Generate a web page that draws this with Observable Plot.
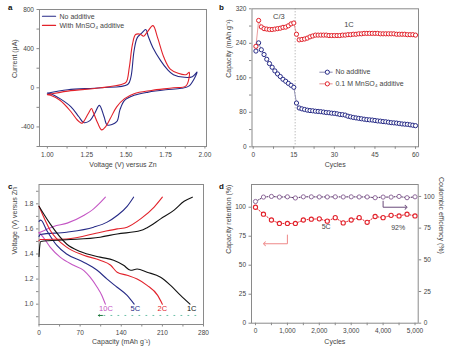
<!DOCTYPE html>
<html><head><meta charset="utf-8">
<script src="https://cdn.jsdelivr.net/npm/d3@7"></script>
<script src="https://cdn.jsdelivr.net/npm/@observablehq/plot@0.6"></script>
<style>
body{margin:0;background:#fff;}
#wrap{position:relative;width:450px;height:352px;overflow:hidden;font-family:"Liberation Sans",Arial,sans-serif;}
.panel{position:absolute;}
.lab{position:absolute;font-weight:bold;font-size:8px;color:#111;}
</style></head><body><div id="wrap"></div>
<script>
// ---------- Panel a: CV ----------
const cvBlueV = [1.00,1.13,1.34,1.51,1.53,1.55,1.57,1.60,1.625,1.64,1.67,1.72,1.76,1.80,1.87,1.92,1.95,1.90,1.85,1.75,1.64,1.55,1.49,1.46,1.44,1.38,1.36,1.33,1.30,1.27,1.23,1.20,1.15,1.08,1.02,1.00];
const cvBlueI = [-55,-20,0,34,107,376,510,561,595,527,410,275,190,134,107,114,160,20,-5,-20,-44,-77,-128,-228,-346,-380,-296,-180,-262,-336,-355,-296,-195,-111,-60,-55];
const cvRedV = [1.00,1.13,1.34,1.47,1.50,1.52,1.54,1.56,1.59,1.61,1.63,1.67,1.70,1.74,1.78,1.83,1.88,1.90,1.88,1.80,1.66,1.55,1.49,1.44,1.40,1.37,1.345,1.32,1.29,1.28,1.26,1.23,1.22,1.19,1.15,1.08,1.02,1.00];
const cvRedI = [-70,-34,0,34,57,208,443,544,548,527,560,635,510,309,191,148,134,158,20,0,-27,-60,-111,-195,-312,-396,-430,-363,-245,-212,-262,-346,-363,-329,-245,-128,-77,-70];
const cvSeries = ["No additive","With MnSO₄ additive"];

// ---------- Panel b: cycling ----------
const capNoAdd = [222,241,225,214,203,193,184.5,176,169,163,156.6,152,147,142.6,138,101.5,90,88,86.5,85,84,83.5,82.5,82,81.4,80.5,79.5,79,78,77.5,76.5,75,74.5,73.5,71,69.5,68,67,66,65,64,63,62.5,62,61,60,59.5,58.5,58,57,56,55.5,55,54,53,52.5,52,51,50,49];
const capMn = [233,293,278,274,273,272,272,273,274,275,277,277.5,280.6,285,287,261,248,249,250,252,255,257,259,259,259,259,259,258,258,258,258,258,259,259,260,260,261,261,262,262,263,263,263,263,263,263,262,262,262,262,262,262,261,261,261,261,260,260,260,259];
const cyclesB = d3.range(1, 61);
const seriesB = ["No additive","0.1 M MnSO₄ additive"];

// ---------- Panel c: charge/discharge ----------
const rates = ["10C","5C","2C","1C"];
const dis10C_cap = [0,7,19,36,59,76,87,99,107,113];
const dis10C_v   = [1.57,1.535,1.455,1.375,1.31,1.27,1.215,1.135,1.07,1.0];
const chg10C_cap = [0,10,25,48,76,93,105,113];
const chg10C_v   = [1.57,1.59,1.62,1.646,1.707,1.76,1.813,1.853];
const dis5C_cap = [0,3,13,30,47,76,99,116,133,150,162];
const dis5C_v   = [1.66,1.67,1.59,1.47,1.40,1.335,1.27,1.2,1.135,1.07,1.0];
const chg5C_cap = [0,2,47,93,116,133,150,161];
const chg5C_v   = [1.54,1.555,1.574,1.614,1.654,1.707,1.78,1.853];
const dis2C_cap = [0,19,47,76,104,122,133,150,167,184,202,210];
const dis2C_v   = [1.78,1.59,1.455,1.39,1.35,1.31,1.255,1.23,1.2,1.15,1.07,1.0];
const chg2C_cap = [0,2,47,105,133,150,173,196,210];
const chg2C_v   = [1.505,1.515,1.52,1.574,1.6,1.614,1.68,1.774,1.853];
const dis1C_cap = [0,19,47,70,104,127,144,156,167,184,207,224,241,257];
const dis1C_v   = [1.78,1.64,1.48,1.42,1.375,1.35,1.31,1.27,1.28,1.255,1.215,1.15,1.07,1.0];
const chg1C_cap = [0,1,3,47,104,133,173,184,207,230,247,261];
const chg1C_v   = [1.38,1.45,1.5,1.513,1.534,1.56,1.587,1.61,1.68,1.75,1.82,1.853];
const rateEndCap = [114,164,210,260];

// ---------- Panel d: long cycling ----------
const cyclesD = d3.range(0, 5001, 250);
const retention = [100,94,89,86,86,86,89,89.7,90,88,91,86.5,89,91,87,92,91,93,92.5,94,92.5];
const coulombic = [96,99.5,100,99.5,99.7,98.8,99.7,99.7,99.6,99.6,99.7,99.6,99.7,99.6,99.6,99,99.5,99.5,100,99,99.7];

// ---------- shared ----------
const FONT = "Liberation Sans, Arial, sans-serif";
const TXT = "#444";
const LBL = 7;
const style = {fontSize:"6.5px", fontFamily:FONT, color:TXT, background:"transparent", overflow:"visible"};
const BLUE = "#262a86", RED = "#e2222b", MAG = "#c455c4", PURP = "#8f6a9c";
const frameStroke = "#8a8a8a";
const wrap = document.getElementById("wrap");
function place(svg, left, top){ svg.classList.add("panel"); svg.style.left=left+"px"; svg.style.top=top+"px"; wrap.appendChild(svg); }
function label(t, left, top){ const d=document.createElement("div"); d.className="lab"; d.textContent=t; d.style.left=left+"px"; d.style.top=top+"px"; wrap.appendChild(d); }
const near = (a,b)=>Math.abs(a-b)<1e-9;

// Panel a
const cvData = [
  ...cvBlueV.map((v,i)=>({v, i:cvBlueI[i], s:cvSeries[0]})),
  ...cvRedV.map((v,i)=>({v, i:cvRedI[i], s:cvSeries[1]}))
];
const pa = Plot.plot({
  width:225, height:176, marginLeft:39, marginRight:19, marginTop:9, marginBottom:30,
  style,
  x:{domain:[0.95,2.01]}, y:{domain:[-600,800]},
  marks:[
    Plot.axisX(d3.range(1,2.001,0.125), {tickSize:2.5, tickPadding:3, stroke:frameStroke, tickFormat:d=>near(d*4,Math.round(d*4))?d.toFixed(2):"", label:null}),
    Plot.axisY(d3.range(-600,801,200), {tickSize:2.5, tickPadding:3, stroke:frameStroke, tickFormat:d=>d%400===0?String(d):"", label:null}),
    Plot.frame({stroke:frameStroke}),
    Plot.line(cvData.filter(d=>d.s===cvSeries[0]), {x:"v", y:"i", stroke:BLUE, strokeWidth:1.1, curve:"catmull-rom"}),
    Plot.line(cvData.filter(d=>d.s===cvSeries[1]), {x:"v", y:"i", stroke:RED, strokeWidth:1.1, curve:"catmull-rom"}),
    // legend
    Plot.line([{x:0.969,y:731},{x:1.052,y:731}], {x:"x", y:"y", stroke:BLUE, strokeWidth:1.2}),
    Plot.line([{x:0.969,y:637},{x:1.052,y:637}], {x:"x", y:"y", stroke:RED, strokeWidth:1.2}),
    Plot.text([{x:1.077,y:731,t:cvSeries[0]},{x:1.077,y:637,t:cvSeries[1]}], {x:"x", y:"y", text:"t", textAnchor:"start", fill:TXT, fontSize:LBL}),
    Plot.text(["Current (μA)"], {frameAnchor:"left", rotate:-90, dx:-25, fill:TXT, fontSize:LBL}),
    Plot.text(["Voltage (V) versus Zn"], {frameAnchor:"bottom", dy:20, fill:TXT, fontSize:LBL})
  ]
});
place(pa, 0, 0);

// Panel b
const bData = [
  ...cyclesB.map((c,i)=>({c, y:capNoAdd[i], s:seriesB[0]})),
  ...cyclesB.map((c,i)=>({c, y:capMn[i], s:seriesB[1]}))
];
const pb = Plot.plot({
  width:225, height:176, marginLeft:26.5, marginRight:32, marginTop:8.3, marginBottom:29.7,
  style,
  x:{domain:[-0.45,61.1]}, y:{domain:[0,320]},
  marks:[
    Plot.axisX(d3.range(0,61,7.5), {tickSize:2.5, tickPadding:3, stroke:frameStroke, tickFormat:d=>d%15===0?String(d):"", label:null}),
    Plot.axisY(d3.range(0,321,40), {tickSize:2.5, tickPadding:3, stroke:frameStroke, tickFormat:d=>d%80===0?String(d):"", label:null}),
    Plot.frame({stroke:frameStroke}),
    Plot.ruleX([15.5], {stroke:"#888", strokeDasharray:"1,2", strokeWidth:0.8}),
    Plot.line(bData.filter(d=>d.s===seriesB[0]), {x:"c", y:"y", stroke:"#6a6a9a", strokeWidth:0.7}),
    Plot.line(bData.filter(d=>d.s===seriesB[1]), {x:"c", y:"y", stroke:"#e07070", strokeWidth:0.7}),
    Plot.dot(bData.filter(d=>d.s===seriesB[0]), {x:"c", y:"y", r:2.1, stroke:BLUE, fill:"white", strokeWidth:1}),
    Plot.dot(bData.filter(d=>d.s===seriesB[1]), {x:"c", y:"y", r:2.1, stroke:RED, fill:"white", strokeWidth:1}),
    Plot.text(["C/3"], {x:9.5, y:302, fill:TXT, fontSize:7.5}),
    Plot.text(["1C"], {x:35.4, y:284, fill:TXT, fontSize:7.5}),
    // legend
    Plot.line([{x:24.6,y:173},{x:29.2,y:173}], {x:"x", y:"y", stroke:"#6a6a9a", strokeWidth:0.8}),
    Plot.line([{x:24.6,y:146},{x:29.2,y:146}], {x:"x", y:"y", stroke:"#e07070", strokeWidth:0.8}),
    Plot.dot([{x:27.4,y:173}], {x:"x", y:"y", r:2.1, stroke:BLUE, fill:"white", strokeWidth:1}),
    Plot.dot([{x:27.4,y:146}], {x:"x", y:"y", r:2.1, stroke:RED, fill:"white", strokeWidth:1}),
    Plot.text([{x:30.4,y:173,t:seriesB[0]},{x:30.4,y:146,t:seriesB[1]}], {x:"x", y:"y", text:"t", textAnchor:"start", fill:TXT, fontSize:LBL}),
    Plot.text(["Capacity (mAh g⁻¹)"], {frameAnchor:"left", rotate:-90, dx:-23.5, fill:TXT, fontSize:LBL}),
    Plot.text(["Cycles"], {frameAnchor:"bottom", dy:20, fill:TXT, fontSize:LBL})
  ]
});
place(pb, 225, 0);

// Panel c
const mk = (cap, v, rate, kind) => cap.map((c,i)=>({c, v:v[i], rate, kind}));
const cData = [
  ...mk(dis10C_cap,dis10C_v,"10C","d"), ...mk(chg10C_cap,chg10C_v,"10C","c"),
  ...mk(dis5C_cap,dis5C_v,"5C","d"), ...mk(chg5C_cap,chg5C_v,"5C","c"),
  ...mk(dis2C_cap,dis2C_v,"2C","d"), ...mk(chg2C_cap,chg2C_v,"2C","c"),
  ...mk(dis1C_cap,dis1C_v,"1C","d"), ...mk(chg1C_cap,chg1C_v,"1C","c")
];
const rateColor = {"10C":MAG, "5C":BLUE, "2C":RED, "1C":"#111"};
const pc = Plot.plot({
  width:225, height:176, marginLeft:38.5, marginRight:22, marginTop:8, marginBottom:28,
  style,
  x:{domain:[0,280]}, y:{domain:[0.838,1.954]},
  color:{domain:rates, range:rates.map(r=>rateColor[r])},
  marks:[
    Plot.axisX(d3.range(0,281,35), {tickSize:2.5, tickPadding:3, stroke:frameStroke, tickFormat:d=>d%70===0?String(d):"", label:null}),
    Plot.axisY(d3.range(0.9,1.95,0.1).map(d=>Math.round(d*10)/10), {tickSize:2.5, tickPadding:3, stroke:frameStroke, tickFormat:d=>near((d*5),Math.round(d*5))?d.toFixed(1):"", label:null}),
    Plot.frame({stroke:frameStroke}),
    Plot.line(cData, {x:"c", y:"v", z:d=>d.rate+d.kind, stroke:"rate", strokeWidth:1.1, curve:"monotone-x"}),
    Plot.text(rates.map((r,i)=>({r, x:rateEndCap[i]})), {x:"x", y:0.968, text:"r", fill:d=>rateColor[d.r], fontSize:7.5}),
    Plot.line([{x:267,y:0.91},{x:106,y:0.91}], {x:"x", y:"y", stroke:"#6cc0a8", strokeWidth:1, strokeDasharray:"1,6"}),
    Plot.arrow([{x1:108,x2:101}], {x1:"x1", x2:"x2", y1:0.91, y2:0.91, stroke:"#1f7a3e", strokeWidth:1, headLength:4}),
    Plot.text(["Voltage (V) versus Zn"], {frameAnchor:"left", rotate:-90, dx:-24.5, fill:TXT, fontSize:LBL}),
    Plot.text(["Capacity (mAh g⁻¹)"], {frameAnchor:"bottom", dy:19, fill:TXT, fontSize:LBL})
  ]
});
place(pc, 0, 176);

// Panel d
const K = 1.093;
const dData = cyclesD.map((c,i)=>({c, r:retention[i], ce:coulombic[i]}));
const pd = Plot.plot({
  width:225, height:176, marginLeft:26, marginRight:32.3, marginTop:8, marginBottom:29.3,
  style,
  x:{domain:[-125,5100]}, y:{domain:[0,119.6]},
  marks:[
    Plot.axisX(d3.range(0,5001,500), {tickSize:2.5, tickPadding:3, stroke:frameStroke, tickFormat:d=>d%1000===0?d3.format(",")(d):"", label:null}),
    Plot.axisY(d3.range(0,101,25), {tickSize:2.5, tickPadding:3, stroke:frameStroke, label:null}),
    Plot.axisY(d3.range(0,101,25).map(v=>v*K), {anchor:"right", tickSize:2.5, tickPadding:3, stroke:frameStroke, tickFormat:d=>String(Math.round(d/K)), label:null}),
    Plot.frame({stroke:frameStroke}),
    Plot.line(dData, {x:"c", y:d=>d.ce*K, stroke:"#4a2a5a", strokeWidth:1, strokeDasharray:"1,1.5"}),
    Plot.line(dData, {x:"c", y:"r", stroke:RED, strokeWidth:1, strokeDasharray:"1,1.5"}),
    Plot.dot(dData, {x:"c", y:d=>d.ce*K, r:2.1, stroke:PURP, fill:"white", strokeWidth:1}),
    Plot.dot(dData, {x:"c", y:"r", r:2.1, stroke:RED, fill:"white", strokeWidth:1.1}),
    Plot.line([{x:1000,y:76},{x:1000,y:68.5},{x:280,y:68.5}], {x:"x", y:"y", stroke:"#ee8888", strokeWidth:1, markerEnd:"arrow"}),
    Plot.line([{x:4000,y:105.2},{x:4000,y:100},{x:4720,y:100}], {x:"x", y:"y", stroke:"#6a4a7a", strokeWidth:1, markerEnd:"arrow"}),
    Plot.text(["5C"], {x:2216, y:83.4, fill:TXT, fontSize:7}),
    Plot.text(["92%"], {x:4473, y:82.5, fill:TXT, fontSize:7}),
    Plot.text(["Capacity retention (%)"], {frameAnchor:"left", rotate:-90, dx:-23, fill:TXT, fontSize:LBL}),
    Plot.text(["Coulombic efficiency (%)"], {frameAnchor:"right", rotate:90, dx:23.5, fill:TXT, fontSize:LBL}),
    Plot.text(["Cycles"], {frameAnchor:"bottom", dy:20.5, fill:TXT, fontSize:LBL})
  ]
});
place(pd, 225, 176);

label("a", 8, 3); label("b", 219, 3); label("c", 8, 182); label("d", 219, 182);
</script>
</body></html>
